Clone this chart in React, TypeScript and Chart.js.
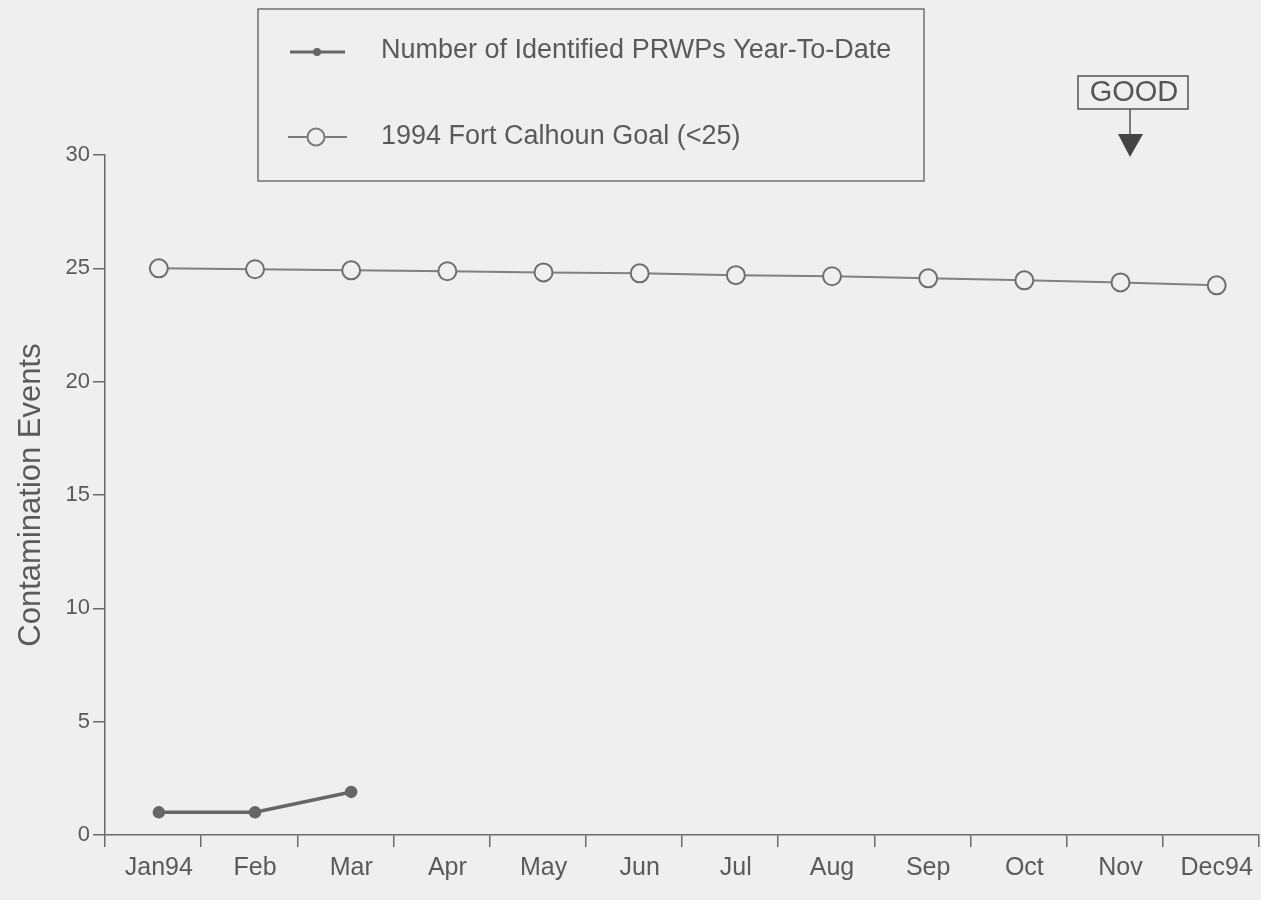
import React, { useEffect, useRef } from "react";
import { Chart, registerables } from "chart.js";

Chart.register(...registerables);

const months = ["Jan94", "Feb", "Mar", "Apr", "May", "Jun", "Jul", "Aug", "Sep", "Oct", "Nov", "Dec94"];
const prwpValues = [1, 1, 1.9];
const goalValues = [25.0, 24.96, 24.91, 24.87, 24.82, 24.78, 24.7, 24.65, 24.56, 24.47, 24.38, 24.25];
const yTicks = [0, 5, 10, 15, 20, 25, 30];
const prwpLabel = "Number of Identified PRWPs Year-To-Date";
const goalLabel = "1994 Fort Calhoun Goal (<25)";
const yTitle = "Contamination Events";
const goodLabel = "GOOD";

const X_MIN = -0.56;
const X_MAX = 11.44;

const FONT = "'Liberation Sans', Arial, Helvetica, sans-serif";
const TEXT = "#5a5a5a";
const AXIS = "#6a6a6a";
const BG = "#efefef";

const noSidePadding = (s: any) => {
  s.paddingLeft = 0;
  s.paddingRight = 0;
};

const overlayPlugin = {
  id: "overlay",
  afterDraw(chart: any) {
    const ctx = chart.ctx;
    ctx.save();
    // Legend box
    ctx.strokeStyle = "#707070";
    ctx.lineWidth = 1.5;
    ctx.strokeRect(258, 9, 666, 172);
    // entry 1
    ctx.strokeStyle = "#666";
    ctx.lineWidth = 3;
    ctx.beginPath();
    ctx.moveTo(290, 52);
    ctx.lineTo(345, 52);
    ctx.stroke();
    ctx.fillStyle = "#666";
    ctx.beginPath();
    ctx.arc(317, 52, 4, 0, Math.PI * 2);
    ctx.fill();
    // entry 2
    ctx.strokeStyle = "#7a7a7a";
    ctx.lineWidth = 2;
    ctx.beginPath();
    ctx.moveTo(288, 137);
    ctx.lineTo(347, 137);
    ctx.stroke();
    ctx.fillStyle = BG;
    ctx.beginPath();
    ctx.arc(316, 137, 8.5, 0, Math.PI * 2);
    ctx.fill();
    ctx.stroke();
    ctx.fillStyle = TEXT;
    ctx.font = `27px ${FONT}`;
    ctx.textBaseline = "middle";
    ctx.textAlign = "left";
    ctx.fillText(prwpLabel, 381, 51);
    ctx.fillText(goalLabel, 381, 137);
    // GOOD box
    ctx.strokeStyle = "#555";
    ctx.lineWidth = 1.5;
    ctx.strokeRect(1078, 76, 110, 33);
    ctx.font = `29px ${FONT}`;
    ctx.textAlign = "center";
    ctx.fillStyle = "#555";
    ctx.fillText(goodLabel, 1134, 93);
    ctx.beginPath();
    ctx.moveTo(1130, 109);
    ctx.lineTo(1130, 138);
    ctx.stroke();
    ctx.fillStyle = "#444";
    ctx.beginPath();
    ctx.moveTo(1118, 134);
    ctx.lineTo(1143, 134);
    ctx.lineTo(1130, 157);
    ctx.closePath();
    ctx.fill();
    ctx.restore();
  },
};

export default function App() {
  const ref = useRef<HTMLCanvasElement>(null);
  useEffect(() => {
    if (!ref.current) return;
    const chart = new Chart(ref.current, {
      type: "line",
      data: {
        datasets: [
          {
            label: goalLabel,
            data: goalValues.map((v, i) => ({ x: i, y: v })),
            borderColor: "#808080",
            borderWidth: 2,
            pointRadius: 9,
            pointBorderWidth: 2,
            pointBackgroundColor: BG,
            pointBorderColor: "#6e6e6e",
            tension: 0,
            clip: false,
          },
          {
            label: prwpLabel,
            data: prwpValues.map((v, i) => ({ x: i, y: v })),
            borderColor: "#666",
            borderWidth: 3.5,
            pointRadius: 4.5,
            pointBackgroundColor: "#666",
            pointBorderColor: "#666",
            tension: 0,
            clip: false,
          },
        ],
      },
      options: {
        animation: false,
        responsive: false,
        maintainAspectRatio: false,
        layout: { autoPadding: false, padding: { left: 0, right: 2, top: 155, bottom: 0 } },
        plugins: { legend: { display: false }, tooltip: { enabled: false } },
        scales: {
          x: {
            type: "linear",
            position: "bottom",
            weight: 0,
            min: X_MIN,
            max: X_MAX,
            afterBuildTicks: (s: any) => {
              s.ticks = [{ value: X_MIN }].concat(months.map((_, i) => ({ value: i + 0.44 })));
            },
            grid: {
              drawOnChartArea: false,
              drawTicks: true,
              tickLength: 12,
              color: AXIS,
              lineWidth: 1.5,
            },
            border: { color: AXIS, width: 1.5 },
            ticks: { display: false },
            afterFit: (s: any) => { s.height = 14; noSidePadding(s); },
          },
          xl: {
            type: "linear",
            position: "bottom",
            weight: 1,
            min: X_MIN,
            max: X_MAX,
            afterBuildTicks: (s: any) => { s.ticks = months.map((_, i) => ({ value: i })); },
            grid: { display: false, drawTicks: false },
            border: { display: false },
            ticks: {
              color: TEXT,
              font: { family: FONT, size: 25 },
              padding: 4,
              maxRotation: 0,
              autoSkip: false,
              callback: (v: any) => months[Math.round(Number(v))] ?? "",
            },
            afterFit: (s: any) => { s.height = 51; noSidePadding(s); },
          },
          y: {
            min: 0,
            max: 30,
            afterBuildTicks: (s: any) => { s.ticks = yTicks.map((v) => ({ value: v })); },
            grid: { drawOnChartArea: false, tickLength: 12, color: AXIS, lineWidth: 1.5 },
            border: { color: AXIS, width: 1.5 },
            ticks: { color: TEXT, font: { family: FONT, size: 22 }, padding: 3 },
            title: { display: true, text: yTitle, color: TEXT, font: { family: FONT, size: 31 }, padding: { top: 13, bottom: 0 } },
            afterFit: (s: any) => { s.width = 105; },
          },
        },
      },
      plugins: [overlayPlugin],
    });
    return () => chart.destroy();
  }, []);
  return (
    <div style={{ position: "absolute", left: 0, top: 0, width: 1261, height: 900, background: BG }}>
      <canvas ref={ref} width={1261} height={900} style={{ width: 1261, height: 900, display: "block" }} />
    </div>
  );
}
